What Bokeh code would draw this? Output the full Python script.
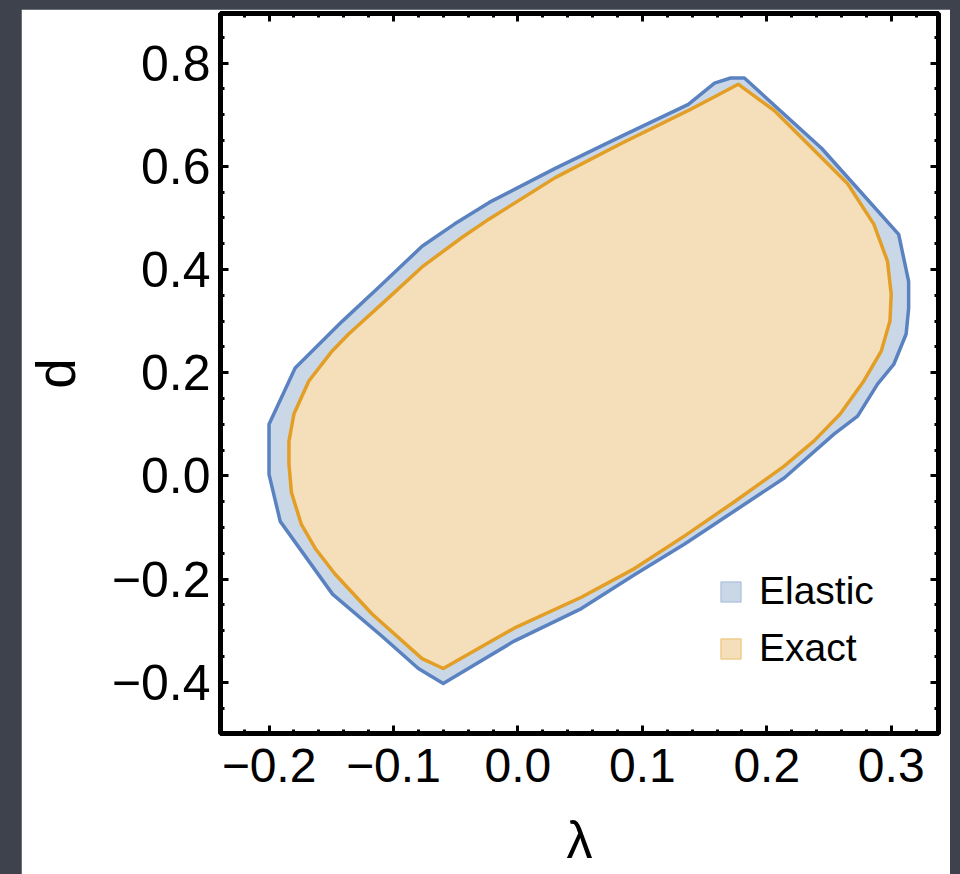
from bokeh.plotting import figure
from bokeh.models import (Range1d, SingleIntervalTicker, LinearAxis, Legend, LegendItem,
                          CustomJSTickFormatter)
from bokeh.layouts import column
from bokeh.embed import file_html
from bokeh.resources import INLINE

# Boundary of the elastic approximation region (lambda, d)
elastic_lam = [0.182, 0.244, 0.273, 0.306, 0.314, 0.314, 0.312, 0.302, 0.289, 0.273, 0.254,
               0.214, 0.174, 0.134, 0.094, 0.051, -0.003, -0.060, -0.080, -0.109, -0.149,
               -0.191, -0.200, -0.200, -0.179, -0.141, -0.109, -0.077, -0.051, -0.023,
               0.030, 0.083, 0.137, 0.158, 0.171]
elastic_d = [0.771, 0.635, 0.557, 0.468, 0.377, 0.325, 0.275, 0.216, 0.178, 0.116, 0.081,
             -0.004, -0.068, -0.132, -0.191, -0.257, -0.320, -0.402, -0.373, -0.311, -0.229,
             -0.088, 0.003, 0.100, 0.209, 0.300, 0.372, 0.445, 0.488, 0.530,
             0.596, 0.658, 0.720, 0.761, 0.771]

# Boundary of the exact region (lambda, d)
exact_lam = [0.177, 0.206, 0.233, 0.265, 0.286, 0.297, 0.300, 0.299, 0.292, 0.278, 0.259,
             0.238, 0.214, 0.174, 0.134, 0.094, 0.051, -0.003, -0.060, -0.077, -0.117,
             -0.147, -0.163, -0.174, -0.182, -0.184, -0.184, -0.180, -0.168, -0.150,
             -0.136, -0.104, -0.077, -0.045, -0.023, 0.030, 0.083, 0.137, 0.160]
exact_d = [0.759, 0.708, 0.643, 0.566, 0.488, 0.416, 0.352, 0.300, 0.242, 0.184, 0.120,
           0.068, 0.019, -0.050, -0.116, -0.179, -0.235, -0.295, -0.373, -0.354, -0.268,
           -0.190, -0.140, -0.094, -0.032, 0.023, 0.067, 0.120, 0.184, 0.240,
           0.275, 0.345, 0.405, 0.462, 0.498, 0.578, 0.644, 0.708, 0.737]

series_labels = ["Elastic", "Exact"]

FONT = "Liberation Sans"
BLUE_LINE, BLUE_FILL, BLUE_EDGE = "#5b82c0", "#cad7e7", "#b4c7e0"
ORANGE_LINE, ORANGE_FILL, ORANGE_EDGE = "#e39e25", "#f5dfbb", "#efcd8e"

p = figure(width=929, height=865, output_backend="svg", toolbar_location=None,
           x_range=Range1d(-0.239, 0.338), y_range=Range1d(-0.499, 0.896),
           x_axis_location=None, y_axis_location=None,
           min_border_left=198, min_border_right=12, min_border_top=4, min_border_bottom=141)
p.margin = (9, 10, 0, 21)
p.background_fill_color = "white"
p.border_fill_color = "white"
p.grid.visible = False
p.outline_line_color = "black"
p.outline_line_width = 5

fmt = CustomJSTickFormatter(code="""
    if (Math.abs(tick) < 1e-9) { return "0.0"; }
    return (tick < 0 ? "\\u2212" : "") + Math.abs(tick).toFixed(1);
""")


def make_axis(interval, minors, labelled, label="", label_size="55px", tick_size="50px",
              label_standoff=22, tick_standoff=10):
    ax = LinearAxis(ticker=SingleIntervalTicker(interval=interval, num_minor_ticks=minors))
    ax.axis_line_color = "black"
    ax.axis_line_width = 4
    ax.major_tick_in = 8
    ax.major_tick_out = 0
    ax.minor_tick_in = 4
    ax.minor_tick_out = 0
    ax.major_tick_line_width = 3
    ax.minor_tick_line_width = 3
    ax.major_tick_line_color = "black"
    ax.minor_tick_line_color = "black"
    if labelled:
        ax.formatter = fmt
        ax.major_label_text_font = FONT
        ax.major_label_text_font_size = tick_size
        ax.major_label_text_color = "black"
        ax.major_label_standoff = tick_standoff
        ax.axis_label = label
        ax.axis_label_text_font = FONT
        ax.axis_label_text_font_size = label_size
        ax.axis_label_text_font_style = "normal"
        ax.axis_label_text_color = "black"
        ax.axis_label_standoff = label_standoff
    else:
        ax.major_label_text_font_size = "0px"
        ax.major_label_standoff = 0
        ax.major_label_text_alpha = 0
    return ax


p.add_layout(make_axis(0.1, 5, True, "λ", label_size="52px", tick_size="48px",
                       label_standoff=26, tick_standoff=15), "below")
p.add_layout(make_axis(0.2, 4, True, "d", label_size="55px", tick_size="50px",
                       label_standoff=22, tick_standoff=10), "left")
p.add_layout(make_axis(0.1, 5, False), "above")
p.add_layout(make_axis(0.2, 4, False), "right")

# filled regions, then their boundary curves
el_fill = p.patch(elastic_lam, elastic_d, fill_color=BLUE_FILL, line_color=BLUE_EDGE, line_width=1.5)
p.patch(elastic_lam, elastic_d, fill_color=None, line_color=BLUE_LINE, line_width=3.5,
        line_join="round")
ex_fill = p.patch(exact_lam, exact_d, fill_color=ORANGE_FILL, line_color=ORANGE_EDGE, line_width=1.5)
p.patch(exact_lam, exact_d, fill_color=None, line_color=ORANGE_LINE, line_width=3.5,
        line_join="round")

legend = Legend(items=[LegendItem(label=series_labels[0], renderers=[el_fill]),
                       LegendItem(label=series_labels[1], renderers=[ex_fill])],
                location=(498, 63))
legend.label_text_font = FONT
legend.label_text_font_size = "39px"
legend.label_text_color = "black"
legend.glyph_width = 25
legend.glyph_height = 25
legend.label_standoff = 16
legend.spacing = 13
legend.padding = 0
legend.margin = 0
legend.border_line_alpha = 0
legend.background_fill_alpha = 0
p.add_layout(legend, "center")

page = column(p, width=960, height=874, styles={"background-color": "#3e424c"})

open("out.html", "w").write(file_html(page, INLINE))
